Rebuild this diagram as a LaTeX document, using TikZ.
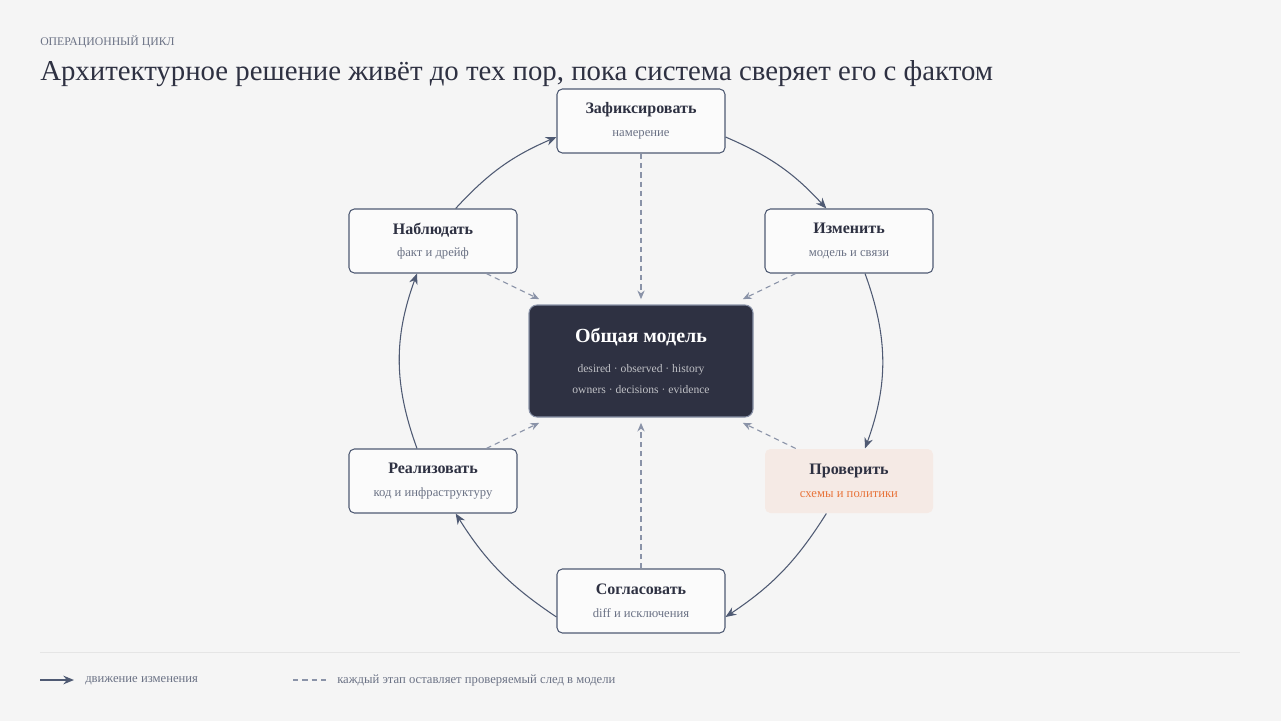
\documentclass[tikz,border=0pt]{standalone}
\usepackage{fontspec}
\setmainfont{Liberation Serif}
\usetikzlibrary{arrows.meta}
\definecolor{bgc}{HTML}{F5F5F5}
\definecolor{inkc}{HTML}{2E3142}
\definecolor{linec}{HTML}{4F5A73}
\definecolor{dashc}{HTML}{8A93A8}
\definecolor{subc}{HTML}{6B7285}
\definecolor{warmc}{HTML}{F5EAE5}
\definecolor{orangec}{HTML}{E8743B}
\colorlet{modelsub}{white!70!inkc}
\tikzset{
  stage/.style={draw=linec, fill=white!60!bgc, rounded corners=4pt, line width=0.8pt,
    minimum width=126pt, minimum height=48pt, align=center, inner sep=0pt},
  flow/.style={draw=linec, line width=0.8pt, -{Stealth[length=8pt,width=6.5pt]}},
  trace/.style={draw=dashc, line width=0.8pt, dash pattern=on 4pt off 3pt, -{Stealth[length=6.5pt,width=5.5pt]}},
}
\newcommand{\stagetext}[3]{{\fontsize{12}{14}\selectfont\bfseries #1}\\[5pt]{\fontsize{9.5}{11}\selectfont\color{#3}#2}}
\begin{document}
\begin{tikzpicture}[x=0.75pt,y=-0.75pt]
\fill[bgc] (0,0) rectangle (1281,721);
\useasboundingbox (0,0) rectangle (1281,721);
% header
\node[anchor=base west, inner sep=0pt, text=subc, font=\fontsize{8.8}{10}\selectfont] (kicker) at (40,45) {ОПЕРАЦИОННЫЙ ЦИКЛ};
\node[anchor=base west, inner sep=0pt, text=inkc, font=\fontsize{21.6}{25}\selectfont] (title) at (40,80) {Архитектурное решение живёт до тех пор, пока система сверяет его с фактом};
% stages
\node[stage, text=inkc] (fix) at (641,121) {\stagetext{Зафиксировать}{намерение}{subc}};
\node[stage, text=inkc] (change) at (849,241) {\stagetext{Изменить}{модель и связи}{subc}};
\node[stage, text=inkc, draw=none, fill=warmc] (check) at (849,481) {\stagetext{Проверить}{схемы и политики}{orangec}};
\node[stage, text=inkc] (agree) at (641,601) {\stagetext{Согласовать}{diff и исключения}{subc}};
\node[stage, text=inkc] (build) at (433,481) {\stagetext{Реализовать}{код и инфраструктуру}{subc}};
\node[stage, text=inkc] (watch) at (433,241) {\stagetext{Наблюдать}{факт и дрейф}{subc}};
% model
\node[draw=dashc, fill=inkc, rounded corners=6pt, line width=0.8pt, minimum width=168pt, minimum height=84pt, align=center, text=white] (model) at (641,361)
  {{\fontsize{15}{17}\selectfont\bfseries Общая модель}\\[10pt]
   {\fontsize{8.7}{10}\selectfont\color{modelsub}desired · observed · history}\\[4pt]
   {\fontsize{8.7}{10}\selectfont\color{modelsub}owners · decisions · evidence}};
% cycle
\draw[flow] ([yshift=-12pt]fix.east) to[bend left=12] ([xshift=-17pt]change.north);
\draw[flow] ([xshift=12pt]change.south) to[bend left=20] ([xshift=12pt]check.north);
\draw[flow] ([xshift=-17pt]check.south) to[bend left=12] ([yshift=-12pt]agree.east);
\draw[flow] ([yshift=-12pt]agree.west) to[bend left=12] ([xshift=17pt]build.south);
\draw[flow] ([xshift=-12pt]build.north) to[bend left=20] ([xshift=-12pt]watch.south);
\draw[flow] ([xshift=17pt]watch.north) to[bend left=12] ([yshift=-12pt]fix.west);
% traces into the model
\draw[trace] (fix.south) -- ([yshift=4pt]model.north);
\draw[trace] ([xshift=-40pt]change.south) -- ([xshift=-8pt,yshift=4pt]model.north east);
\draw[trace] ([xshift=-40pt]check.north) -- ([xshift=-8pt,yshift=-4pt]model.south east);
\draw[trace] (agree.north) -- ([yshift=-4pt]model.south);
\draw[trace] ([xshift=40pt]build.north) -- ([xshift=8pt,yshift=-4pt]model.south west);
\draw[trace] ([xshift=40pt]watch.south) -- ([xshift=8pt,yshift=4pt]model.north west);
% legend
\coordinate (ruleL) at (40,652);
\coordinate (ruleR) at (1240,652);
\draw[black!10, line width=0.6pt] (ruleL) -- (ruleR);
\coordinate (flowA) at (40,680);
\coordinate (flowB) at (74,680);
\draw[flow, line width=1.2pt] (flowA) -- (flowB);
\node[anchor=west, inner sep=0pt, text=subc, font=\fontsize{9.5}{11}\selectfont] (flowlbl) at (85,681) {движение изменения};
\coordinate (traceA) at (293,680);
\coordinate (traceB) at (326,680);
\draw[draw=dashc, line width=0.8pt, dash pattern=on 4pt off 3pt] (traceA) -- (traceB);
\node[anchor=west, inner sep=0pt, text=subc, font=\fontsize{9.5}{11}\selectfont] (tracelbl) at (337,681) {каждый этап оставляет проверяемый след в модели};
\end{tikzpicture}
\end{document}
